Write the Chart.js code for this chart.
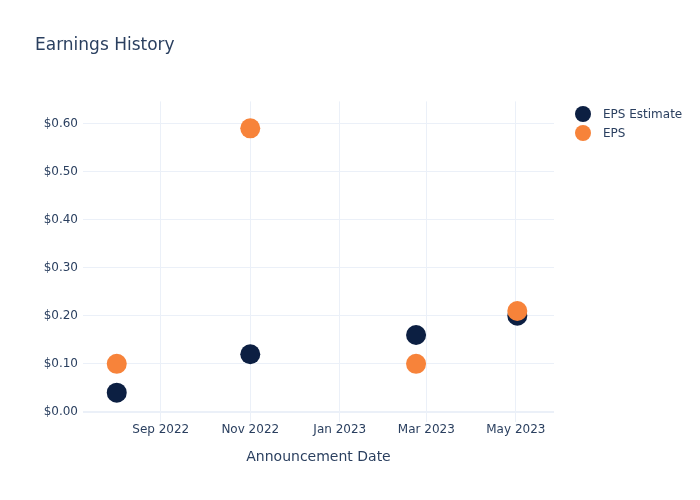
<!DOCTYPE html>
<html>
<head>
<meta charset="utf-8">
<script src="https://cdn.jsdelivr.net/npm/chart.js@4"></script>
<style>
  body { margin: 0; background: #fff; }
  canvas { display: block; }
</style>
</head>
<body>
<canvas id="earningsChart" width="700" height="500"></canvas>
<script>
const announceDates = ["2022-08-02", "2022-11-01", "2023-02-22", "2023-05-02"];
const epsEstimate = [0.04, 0.12, 0.16, 0.20];
const epsActual = [0.10, 0.59, 0.10, 0.21];

const xTickDates = ["2022-09-01", "2022-11-01", "2023-01-01", "2023-03-01", "2023-05-01"];
const xTickLabels = ["Sep 2022", "Nov 2022", "Jan 2023", "Mar 2023", "May 2023"];
const yTickValues = [0, 0.1, 0.2, 0.3, 0.4, 0.5, 0.6];

const xRange = ["2022-07-10", "2023-05-27"];
const yRange = [-0.021, 0.646];

const navy = "#0c1f42";
const orange = "#f7833a";
const textColor = "#2a3f5f";
const gridColor = "#ebf0f8";
const fontFamily = "'DejaVu Sans', sans-serif";

const toTime = d => Date.parse(d);
const xTickTimes = xTickDates.map(toTime);

// plotly-style legend drawn to the right of the plot
const sideLegend = {
    id: "sideLegend",
    afterDraw(chart) {
        const ctx = chart.ctx;
        ctx.save();
        ctx.font = "12px " + fontFamily;
        ctx.textBaseline = "middle";
        chart.data.datasets.forEach((ds, i) => {
            const y = 114 + i * 19;
            ctx.fillStyle = ds.backgroundColor;
            ctx.beginPath();
            ctx.arc(583, y, 8, 0, Math.PI * 2);
            ctx.fill();
            ctx.fillStyle = textColor;
            ctx.fillText(ds.label, 603, y + 1);
        });
        ctx.restore();
    }
};

const ctx = document.getElementById("earningsChart").getContext("2d");
new Chart(ctx, {
    type: "scatter",
    data: {
        datasets: [{
            label: "EPS Estimate",
            data: announceDates.map((d, i) => ({ x: toTime(d), y: epsEstimate[i] })),
            backgroundColor: navy,
            borderColor: navy,
            borderWidth: 0,
            pointRadius: 10,
            pointHoverRadius: 10,
            order: 1
        }, {
            label: "EPS",
            data: announceDates.map((d, i) => ({ x: toTime(d), y: epsActual[i] })),
            backgroundColor: orange,
            borderColor: orange,
            borderWidth: 0,
            pointRadius: 10,
            pointHoverRadius: 10,
            order: 0
        }]
    },
    options: {
        responsive: false,
        animation: false,
        layout: { padding: { left: 35, right: 146, top: 0, bottom: 28 } },
        scales: {
            x: {
                type: "linear",
                min: toTime(xRange[0]),
                max: toTime(xRange[1]),
                afterBuildTicks: scale => {
                    scale.ticks = xTickTimes.map(v => ({ value: v }));
                },
                afterFit: scale => { scale.height = 50; },
                ticks: {
                    color: textColor,
                    font: { family: fontFamily, size: 12 },
                    padding: 1,
                    maxRotation: 0,
                    callback: value => xTickLabels[xTickTimes.indexOf(value)]
                },
                grid: { color: gridColor, lineWidth: 1, drawTicks: false },
                border: { display: false },
                title: {
                    display: true,
                    text: "Announcement Date",
                    color: textColor,
                    font: { family: fontFamily, size: 14 },
                    padding: { top: 4, bottom: 6 }
                }
            },
            y: {
                min: yRange[0],
                max: yRange[1],
                afterBuildTicks: scale => {
                    scale.ticks = yTickValues.map(v => ({ value: v }));
                },
                afterFit: scale => { scale.width = 48; },
                ticks: {
                    color: textColor,
                    font: { family: fontFamily, size: 12 },
                    padding: 5,
                    callback: value => "$" + value.toFixed(2)
                },
                grid: {
                    color: gridColor,
                    drawTicks: false,
                    lineWidth: c => (c.tick && c.tick.value === 0 ? 2 : 1)
                },
                border: { display: false }
            }
        },
        plugins: {
            title: {
                display: true,
                text: "Earnings History",
                align: "start",
                color: textColor,
                font: { family: fontFamily, size: 17, weight: "normal" },
                padding: { top: 35, bottom: 46 }
            },
            legend: { display: false },
            tooltip: { enabled: false }
        }
    },
    plugins: [sideLegend]
});
</script>
</body>
</html>
